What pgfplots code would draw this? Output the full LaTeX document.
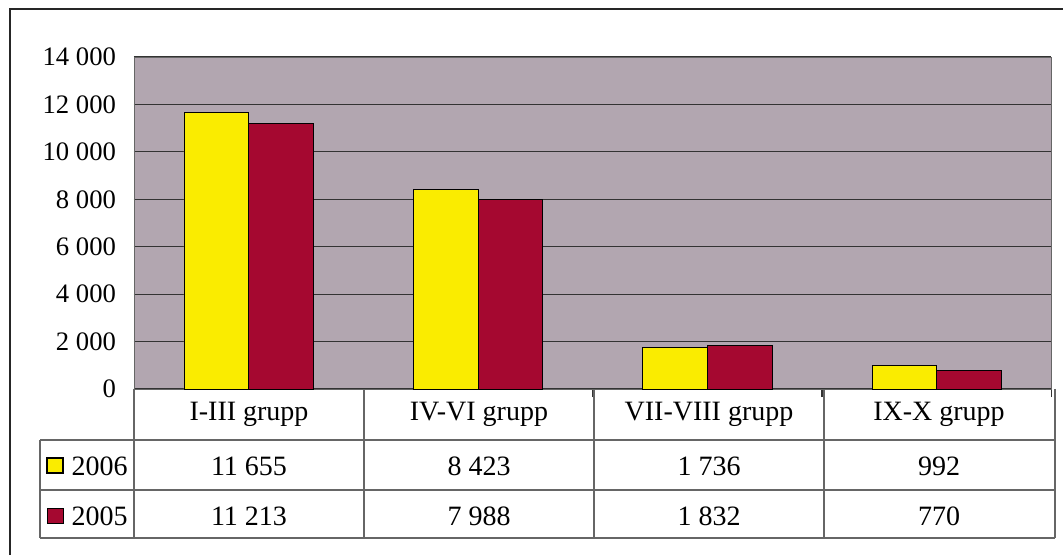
\documentclass[border=0pt]{standalone}
\usepackage{pgfplots}
\pgfplotsset{compat=1.18}
\usepackage{fontspec}
\setmainfont{Liberation Serif}
\definecolor{bgplot}{RGB}{178,166,176}
\definecolor{ybar}{RGB}{250,236,0}
\definecolor{rbar}{RGB}{165,8,48}
\begin{document}
\begin{tikzpicture}[x=0.75pt,y=0.75pt]
% canvas 1063 x 557 px, y measured upward: Y = 557 - y_img
\path[use as bounding box] (0,0) rectangle (1063,557);
% outer frame (top and left)
\draw[line width=1.5pt,black!85] (10,2) -- (10,548) -- (1063,548);
\begin{axis}[
  at={(100.5pt,126pt)}, anchor=south west,
  scale only axis, width=688pt, height=249pt,
  xmin=-0.5, xmax=3.5, ymin=0, ymax=14000,
  scaled y ticks=false,
  ybar=0pt, bar width=48.5pt,
  axis background/.style={fill=bgplot},
  axis line style={draw=black!60},
  ytick={0,2000,4000,6000,8000,10000,12000,14000},
  yticklabels={0,2 000,4 000,6 000,8 000,10 000,12 000,14 000},
  yticklabel style={font=\fontsize{20}{20}\selectfont, xshift=-10pt},
  xtick={-0.5,0.5,1.5,2.5,3.5}, xticklabels={},
  major tick length=6pt,
  tick style={black!80, line width=0.8pt},
  ytick pos=left, xtick pos=bottom,
  ymajorgrids, grid style={black!80, line width=0.8pt},
  clip=false,
]
\addplot[fill=ybar, draw=black, line width=0.7pt] coordinates {(0,11655) (1,8423) (2,1736) (3,992)};
\addplot[fill=rbar, draw=black, line width=0.7pt] coordinates {(0,11213) (1,7988) (2,1832) (3,770)};
\end{axis}
% data table
\begin{scope}[black!60, line width=0.8pt]
  \draw (40,117) -- (1055,117);
  \draw (40,67) -- (1055,67);
  \draw (40,19) -- (1055,19);
  \draw (40,117) -- (40,19);
  \foreach \xx in {134,364,594,824,1055} \draw (\xx,168) -- (\xx,19);
\end{scope}
\foreach \xx/\lab in {249/I-III grupp,479/IV-VI grupp,709/VII-VIII grupp,939/IX-X grupp}
  \node[font=\fontsize{21}{21}\selectfont] at (\xx,143) {\lab};
\foreach \xx/\a/\b in {249/11 655/11 213,479/8 423/7 988,709/1 736/1 832,939/992/770}{
  \node[font=\fontsize{21}{21}\selectfont] at (\xx,91) {\a};
  \node[font=\fontsize{21}{21}\selectfont] at (\xx,41) {\b};
}
\filldraw[fill=ybar, draw=black, line width=0.9pt] (47,84) rectangle (63,99);
\filldraw[fill=rbar, draw=black, line width=0.6pt] (47,34) rectangle (63,49);
\node[font=\fontsize{21}{21}\selectfont, anchor=west] at (67,91) {2006};
\node[font=\fontsize{21}{21}\selectfont, anchor=west] at (67,41) {2005};
\end{tikzpicture}
\end{document}
